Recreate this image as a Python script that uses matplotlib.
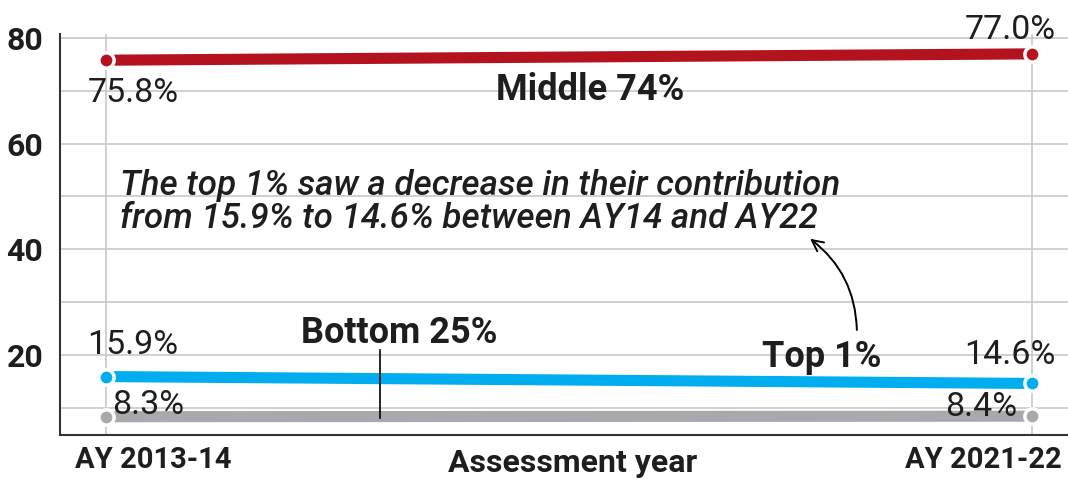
import matplotlib
matplotlib.use("Agg")
import matplotlib.pyplot as plt
import matplotlib.transforms as mtrans

plt.rcParams['font.family'] = ['Roboto', 'DejaVu Sans']

years = ["AY 2013-14", "AY 2021-22"]
middle = [75.8, 77.0]
top1 = [15.9, 14.6]
bottom = [8.3, 8.4]
series_names = ["Middle 74%", "Top 1%", "Bottom 25%"]
note = "The top 1% saw a decrease in their contribution\nfrom 15.9% to 14.6% between AY14 and AY22"
xlabel = "Assessment year"

RED = "#B3121E"
BLUE = "#00AEEF"
GREY = "#A8A9AD"
TXT = "#1E1E1E"

fig = plt.figure(figsize=(10.68, 4.79), dpi=100)
ax = fig.add_axes([0.056, 0.092, 0.944, 0.837])
x = list(range(len(years)))

ax.set_xlim(-0.05, 1.039)
ax.set_ylim(4.85, 80.76)

for vals, c in [(middle, RED), (top1, BLUE), (bottom, GREY)]:
    ax.plot(x, vals, color=c, lw=8, solid_capstyle='butt', zorder=3)
    ax.plot(x, vals, 'o', color=c, ms=11, mec='white', mew=2.5, zorder=4)

# grid
ax.set_yticks([20, 40, 60, 80])
ax.set_yticks([10, 30, 50, 70], minor=True)
ax.grid(axis='y', which='both', color='#C8C8C8', lw=1.2, zorder=0)
ax.grid(axis='x', color='#C8C8C8', lw=1.2, zorder=0)
ax.tick_params(axis='y', which='both', length=0, pad=12, labelsize=23, labelcolor=TXT)
for lab in ax.get_yticklabels():
    lab.set_fontweight('bold')

ax.set_xticks(x)
ax.set_xticklabels(years, fontsize=21, fontweight='bold', color=TXT)
ax.tick_params(axis='x', length=0, pad=8)
xl = ax.get_xticklabels()
xl[0].set_ha('left')
xl[0].set_transform(xl[0].get_transform() + mtrans.ScaledTranslation(-31/100, 0, fig.dpi_scale_trans))
xl[1].set_ha('right')
xl[1].set_transform(xl[1].get_transform() + mtrans.ScaledTranslation(30/100, 0, fig.dpi_scale_trans))

fig.text(573/1068, 1 - 463/479, xlabel, ha='center', va='center', fontsize=23,
         fontweight='bold', color=TXT)

for s in ['top', 'right']:
    ax.spines[s].set_visible(False)
for s in ['left', 'bottom']:
    ax.spines[s].set_color('#333333')
    ax.spines[s].set_linewidth(1.5)

# value labels
vs = dict(fontsize=24.5, color=TXT, va='center')
ax.text(-0.02, 69.6, f"{middle[0]:.1f}%", ha='left', **vs)
ax.text(1.026, 81.6, f"{middle[1]:.1f}%", ha='right', clip_on=False, **vs)
ax.text(-0.02, 21.9, f"{top1[0]:.1f}%", ha='left', **vs)
ax.text(1.026, 20.0, f"{top1[1]:.1f}%", ha='right', **vs)
ax.text(0.006, 10.5, f"{bottom[0]:.1f}%", ha='left', **vs)
ax.text(0.984, 10.2, f"{bottom[1]:.1f}%", ha='right', **vs)

# series names
ns = dict(ha='center', va='center', fontsize=26, fontweight='bold', color=TXT)
ax.text(0.523, 70.2, series_names[0], **ns)
ax.text(0.773, 19.6, series_names[1], **ns)
ax.text(0.317, 24.1, series_names[2], **ns)
ax.plot([0.296, 0.296], [21.0, 8.0], color='black', lw=1.2, zorder=5)

# note
ax.text(0.015, 48.9, note, ha='left', va='center', fontsize=25.2, style='italic',
        fontweight='medium', color=TXT, linespacing=1.0)
ax.annotate("", xy=(0.758, 42.3), xytext=(0.811, 24.2),
            arrowprops=dict(arrowstyle='->', color='black', lw=1.4,
                            connectionstyle='arc3,rad=0.25', mutation_scale=20))

fig.savefig("out.png", dpi=100)
